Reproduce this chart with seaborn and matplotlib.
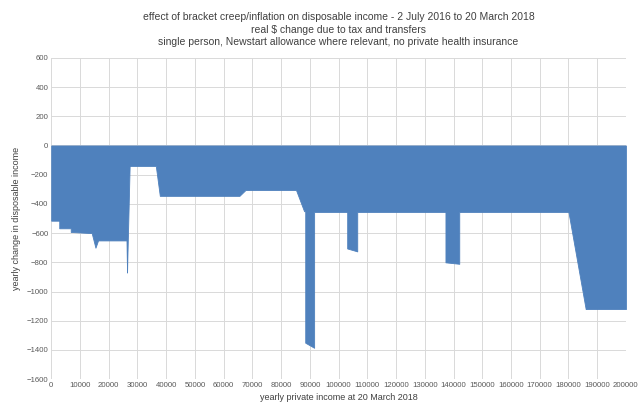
import numpy as np
import matplotlib
matplotlib.use("Agg")
import matplotlib.pyplot as plt
import seaborn as sns

# breakpoints of the (piecewise) change curve
income = [0, 2800, 2800, 6800, 6800, 14100, 15400, 16300, 26200, 26300, 26400, 26500,
          26900, 27300, 36400, 37800, 65500, 67600, 85200, 88000, 88400, 88400,
          91500, 91500, 103000, 103000, 106500, 106500, 137200, 137200, 142000,
          142000, 180000, 186000, 200000]
change = [-515, -515, -567, -567, -592, -600, -700, -650, -650, -770, -870, -770,
          -460, -140, -140, -345, -345, -305, -305, -450, -450, -1350,
          -1385, -455, -455, -705, -725, -455, -455, -800, -810,
          -455, -455, -1120, -1120]

sns.set_style("whitegrid")
plt.rcParams['font.family'] = ['Liberation Sans', 'DejaVu Sans']

fig, ax = plt.subplots(figsize=(6.4, 4.19), dpi=100)
ax.fill_between(income, change, 0, color="#4f81bd", linewidth=0.6, edgecolor="#4f81bd")

ax.set_xlim(0, 200000)
ax.set_ylim(-1600, 600)
ax.set_xticks(np.arange(0, 200001, 10000))
ax.set_yticks(np.arange(-1600, 601, 200))
ax.tick_params(axis='both', labelsize=5.6, colors="#595959", length=0, pad=2)
ax.grid(color="#d9d9d9", linewidth=0.7)
for s in ax.spines.values():
    s.set_visible(False)
ax.axhline(0, color="#d9d9d9", linewidth=0.7, zorder=0)

ax.set_xlabel("yearly private income at 20 March 2018", fontsize=6.5, color="#404040", labelpad=3)
ax.set_ylabel("yearly change in disposable income", fontsize=6.5, color="#404040", labelpad=4)
ax.set_title("effect of bracket creep/inflation on disposable income - 2 July 2016 to 20 March 2018\n"
             "real $ change due to tax and transfers\n"
             "single person, Newstart allowance where relevant, no private health insurance",
             fontsize=7.5, color="#404040", linespacing=1.35, pad=9)

fig.subplots_adjust(left=0.08, right=0.978, top=0.862, bottom=0.095)
fig.savefig("out.png", dpi=100)
